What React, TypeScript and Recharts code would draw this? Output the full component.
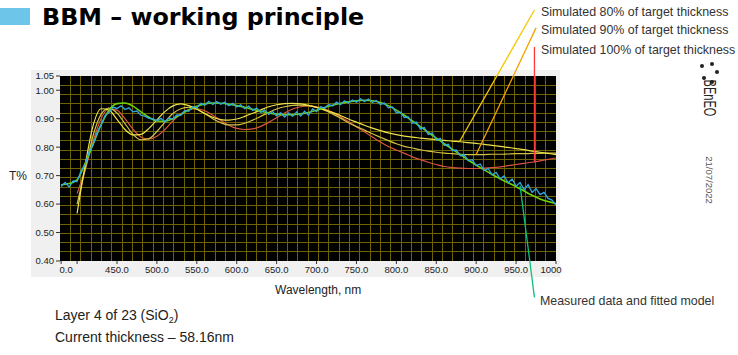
import { LineChart, Line, XAxis, YAxis, CartesianGrid, ReferenceLine } from "recharts";

// Spectrum of the stack after layer 4: measured transmission, fitted model and
// three simulated thicknesses.

const measuredWl = [
  380, 385, 390, 395, 400, 405, 410, 415, 420, 425, 430, 435, 440, 445, 450, 455, 460, 465, 470, 475,
  480, 485, 490, 495, 500, 505, 510, 515, 520, 525, 530, 535, 540, 545, 550, 555, 560, 565, 570, 575,
  580, 585, 590, 595, 600, 605, 610, 615, 620, 625, 630, 635, 640, 645, 650, 655, 660, 665, 670, 675,
  680, 685, 690, 695, 700, 705, 710, 715, 720, 725, 730, 735, 740, 745, 750, 755, 760, 765, 770, 775,
  780, 785, 790, 795, 800, 805, 810, 815, 820, 825, 830, 835, 840, 845, 850, 855, 860, 865, 870, 875,
  880, 885, 890, 895, 900, 905, 910, 915, 920, 925, 930, 935, 940, 945, 950, 955, 960, 965, 970, 975,
  980, 985, 990, 995, 1000,
];
const measuredT = [
  0.662, 0.676, 0.66, 0.681, 0.679, 0.716, 0.738, 0.783, 0.808, 0.851, 0.879, 0.911, 0.922, 0.941, 0.936, 0.945, 0.932, 0.938, 0.924, 0.927,
  0.912, 0.909, 0.901, 0.899, 0.893, 0.901, 0.889, 0.902, 0.899, 0.913, 0.912, 0.929, 0.926, 0.943, 0.938, 0.954, 0.947, 0.961, 0.95, 0.96,
  0.951, 0.958, 0.946, 0.954, 0.941, 0.949, 0.935, 0.944, 0.929, 0.937, 0.922, 0.931, 0.915, 0.925, 0.91, 0.921, 0.906, 0.92, 0.908, 0.924,
  0.909, 0.926, 0.912, 0.934, 0.925, 0.942, 0.937, 0.95, 0.945, 0.958, 0.949, 0.963, 0.955, 0.966, 0.958, 0.97, 0.96, 0.969, 0.957, 0.964,
  0.95, 0.955, 0.938, 0.941, 0.921, 0.923, 0.904, 0.906, 0.884, 0.888, 0.864, 0.869, 0.845, 0.85, 0.825, 0.831, 0.806, 0.81, 0.788, 0.79,
  0.77, 0.773, 0.752, 0.756, 0.735, 0.741, 0.718, 0.725, 0.703, 0.711, 0.689, 0.699, 0.675, 0.688, 0.663, 0.676, 0.65, 0.668, 0.641, 0.655,
  0.633, 0.641, 0.62, 0.614, 0.596,
];

const modelWl = [
  380, 390, 400, 410, 420, 430, 440, 450, 460, 470, 480, 490, 500, 510, 520, 530, 540, 550, 560, 570,
  580, 590, 600, 610, 620, 630, 640, 650, 660, 670, 680, 690, 700, 710, 720, 730, 740, 750, 760, 770,
  780, 790, 800, 810, 820, 830, 840, 850, 860, 870, 880, 890, 900, 910, 920, 930, 940, 950, 960, 970,
  980, 990, 1000,
];
const fittedT = [
  0.668, 0.672, 0.685, 0.742, 0.81, 0.878, 0.93, 0.953, 0.955, 0.944, 0.924, 0.905, 0.892, 0.891, 0.9, 0.915, 0.931, 0.944, 0.952, 0.955,
  0.954, 0.951, 0.946, 0.94, 0.933, 0.926, 0.92, 0.916, 0.914, 0.914, 0.917, 0.922, 0.93, 0.939, 0.947, 0.954, 0.959, 0.963, 0.965, 0.963,
  0.957, 0.946, 0.93, 0.912, 0.892, 0.872, 0.852, 0.832, 0.812, 0.793, 0.774, 0.755, 0.737, 0.72, 0.704, 0.689, 0.675, 0.661, 0.646, 0.631,
  0.618, 0.609, 0.602,
];

// simulated curves start at 400 nm
const simWl = modelWl.slice(2);
const sim80T = [
  0.567, 0.735, 0.875, 0.935, 0.93, 0.898, 0.862, 0.843, 0.845, 0.866,
  0.896, 0.925, 0.945, 0.952, 0.946, 0.933, 0.918, 0.905, 0.897, 0.895,
  0.899, 0.908, 0.919, 0.931, 0.942, 0.949, 0.953, 0.954, 0.952, 0.947,
  0.94, 0.932, 0.922, 0.911, 0.899, 0.888, 0.877, 0.867, 0.858, 0.85,
  0.844, 0.839, 0.835, 0.832, 0.829, 0.826, 0.824, 0.821, 0.819, 0.816,
  0.813, 0.81, 0.806, 0.803, 0.799, 0.795, 0.791, 0.786, 0.782, 0.778,
  0.774,
];
const sim90T = [
  0.6, 0.72, 0.84, 0.915, 0.937, 0.92, 0.883, 0.845, 0.826, 0.83,
  0.855, 0.888, 0.918, 0.935, 0.94, 0.934, 0.918, 0.9, 0.886, 0.878,
  0.878, 0.884, 0.895, 0.908, 0.922, 0.934, 0.942, 0.947, 0.948, 0.946,
  0.94, 0.93, 0.917, 0.902, 0.886, 0.872, 0.86, 0.847, 0.835, 0.823,
  0.812, 0.803, 0.797, 0.791, 0.786, 0.782, 0.779, 0.777, 0.775, 0.774,
  0.774, 0.774, 0.775, 0.775, 0.776, 0.777, 0.777, 0.778, 0.778, 0.779,
  0.779,
];
const sim100T = [
  0.637, 0.72, 0.82, 0.9, 0.935, 0.93, 0.9, 0.863, 0.836, 0.828,
  0.838, 0.862, 0.892, 0.917, 0.932, 0.935, 0.928, 0.912, 0.894, 0.877,
  0.866, 0.862, 0.864, 0.873, 0.887, 0.903, 0.92, 0.934, 0.942, 0.945,
  0.942, 0.935, 0.922, 0.907, 0.89, 0.872, 0.854, 0.836, 0.818, 0.802,
  0.79, 0.778, 0.766, 0.756, 0.747, 0.739, 0.732, 0.728, 0.726, 0.725,
  0.725, 0.726, 0.728, 0.731, 0.735, 0.739, 0.743, 0.747, 0.752, 0.757,
  0.762,
];

const xTicks = [380, 400, 450, 500, 550, 600, 650, 700, 750, 800, 850, 900, 950, 1000];
const yTicks = [0.4, 0.5, 0.6, 0.7, 0.8, 0.9, 1.0, 1.05];

const X_MIN = 378.6;
const X_MAX = 1000;
const Y_MIN = 0.4;
const Y_MAX = 1.05;

// instrument grid: evenly divided plot area
const GRID_COLS = 48;
const GRID_ROWS = 20;
const gridX = Array.from({ length: GRID_COLS - 1 }, (_, i) => X_MIN + ((i + 1) * (X_MAX - X_MIN)) / GRID_COLS);
const gridY = Array.from({ length: GRID_ROWS - 1 }, (_, i) => Y_MIN + ((i + 1) * (Y_MAX - Y_MIN)) / GRID_ROWS);

// annotation leaders: [point on curve, label end] in data units
const leaders = [
  { color: "#f4c800", a: { x: 879, y: 0.819 }, b: { x: 973, y: 1.282 } },
  { color: "#f0a500", a: { x: 900, y: 0.774 }, b: { x: 975, y: 1.219 } },
  { color: "#ff3a3a", a: { x: 973, y: 0.749 }, b: { x: 973, y: 1.152 } },
  { color: "#12c07a", a: { x: 955, y: 0.665 }, b: { x: 973, y: 0.272 } },
];

const zip = (wl: number[], t: number[]) => wl.map((w, i) => ({ wl: w, t: t[i] }));
const measured = zip(measuredWl, measuredT);
const fitted = zip(modelWl, fittedT);
const sim80 = zip(simWl, sim80T);
const sim90 = zip(simWl, sim90T);
const sim100 = zip(simWl, sim100T);

function xLabel(v: number) {
  if (v === 380) return "0.0";
  if (v === 400) return "";
  if (v === 1000) return "1000";
  return v.toFixed(1);
}

function XTick(props: any) {
  const { x, y, payload } = props;
  const v = payload.value as number;
  const dx = v === 380 ? 5 : v === 1000 ? -5 : 0;
  return (
    <text x={x + dx} y={y} dy="0.75em" textAnchor="middle" fontSize={9.5} fill="#222">
      {xLabel(v)}
    </text>
  );
}

const txt = (left: number, top: number, size: number, extra: React.CSSProperties = {}): React.CSSProperties => ({
  position: "absolute",
  left,
  top,
  fontSize: size,
  lineHeight: 1,
  whiteSpace: "nowrap",
  color: "#222",
  ...extra,
});

const logoDots = [
  [700, 64],
  [710, 62],
  [715, 70],
  [702, 76],
  [710, 80],
];

export default function App() {
  return (
    <div
      style={{
        position: "absolute",
        left: 0,
        top: 0,
        width: 738,
        height: 355,
        background: "#fff",
        overflow: "hidden",
        fontFamily: '"Liberation Sans", Arial, sans-serif',
      }}
    >
      <div style={{ position: "absolute", left: 0, top: 8, width: 30, height: 17, background: "#6dc5ea" }} />
      <div style={txt(42, 6, 23.8, { fontFamily: '"DejaVu Sans", sans-serif', fontWeight: 700, color: "#000" })}>
        BBM – working principle
      </div>

      <div style={{ position: "absolute", left: 31, top: 70, width: 529, height: 207, background: "#f0f0f0" }} />

      <LineChart
        width={738}
        height={355}
        margin={{ top: 76, right: 182, bottom: 74, left: 30 }}
        style={{ position: "absolute", left: 0, top: 0 }}
      >
        <CartesianGrid horizontal={false} vertical={false} fill="#000" />
        {gridX.map((v) => (
          <ReferenceLine key={"gx" + v} x={v} stroke="#6f6300" strokeWidth={1} shapeRendering="crispEdges" />
        ))}
        {gridY.map((v) => (
          <ReferenceLine key={"gy" + v} y={v} stroke="#6f6300" strokeWidth={1} shapeRendering="crispEdges" />
        ))}
        <XAxis
          dataKey="wl"
          type="number"
          domain={[X_MIN, X_MAX]}
          allowDataOverflow
          ticks={xTicks}
          interval={0}
          height={20}
          tickSize={3}
          axisLine={false}
          tickLine={{ stroke: "#333" }}
          tick={<XTick />}
        />
        <YAxis
          type="number"
          domain={[Y_MIN, Y_MAX]}
          allowDataOverflow
          ticks={yTicks}
          interval={0}
          width={30}
          tickSize={4}
          tickMargin={2}
          axisLine={false}
          tickLine={{ stroke: "#333" }}
          tick={{ fontSize: 9.5, fill: "#222" }}
          tickFormatter={(v: number) => v.toFixed(2)}
        />
        <Line data={sim100} dataKey="t" name="sim100" type="monotone" stroke="#d9553f" strokeWidth={1.2} dot={false} isAnimationActive={false} />
        <Line data={sim90} dataKey="t" name="sim90" type="monotone" stroke="#d2c244" strokeWidth={1.2} dot={false} isAnimationActive={false} />
        <Line data={sim80} dataKey="t" name="sim80" type="monotone" stroke="#eee24a" strokeWidth={1.2} dot={false} isAnimationActive={false} />
        <Line data={fitted} dataKey="t" name="fitted" type="monotone" stroke="#6fd300" strokeWidth={1.6} dot={false} isAnimationActive={false} />
        <Line data={measured} dataKey="t" name="measured" type="linear" stroke="#2ea8e4" strokeWidth={1.3} dot={false} isAnimationActive={false} />
        {leaders.map((l) => (
          <ReferenceLine
            key={l.color}
            segment={[l.a, l.b]}
            stroke={l.color}
            strokeWidth={1.3}
            ifOverflow="visible"
          />
        ))}
      </LineChart>

      <div style={txt(9, 170, 12)}>T%</div>
      <div style={txt(275, 284, 12)}>Wavelength, nm</div>

      <div style={txt(541, 5.5, 12.4, { color: "#333" })}>Simulated 80% of target thickness</div>
      <div style={txt(541, 23.5, 12.4, { color: "#333" })}>Simulated 90% of target thickness</div>
      <div style={txt(541, 43.5, 12.4, { color: "#333" })}>Simulated 100% of target thickness</div>
      <div style={txt(540, 294.5, 12.4, { color: "#333" })}>Measured data and fitted model</div>

      <div style={txt(55, 308, 14)}>
        Layer 4 of 23 (SiO<sub style={{ fontSize: 9, verticalAlign: -3 }}>2</sub>)
      </div>
      <div style={txt(55, 330, 14)}>Current thickness – 58.16nm</div>

      {logoDots.map(([x, y], i) => (
        <div
          key={i}
          style={{ position: "absolute", left: x, top: y, width: 4, height: 4, borderRadius: 2, background: "#222" }}
        />
      ))}
      <div
        style={txt(709, 98, 17, {
          transform: "translate(-50%, -50%) rotate(90deg) scaleX(0.65)",
          fontWeight: 300,
          color: "#222",
        })}
      >
        BEnEO
      </div>
      <div style={txt(709, 180, 9.5, { transform: "translate(-50%, -50%) rotate(90deg)", color: "#555" })}>21/07/2022</div>
    </div>
  );
}
